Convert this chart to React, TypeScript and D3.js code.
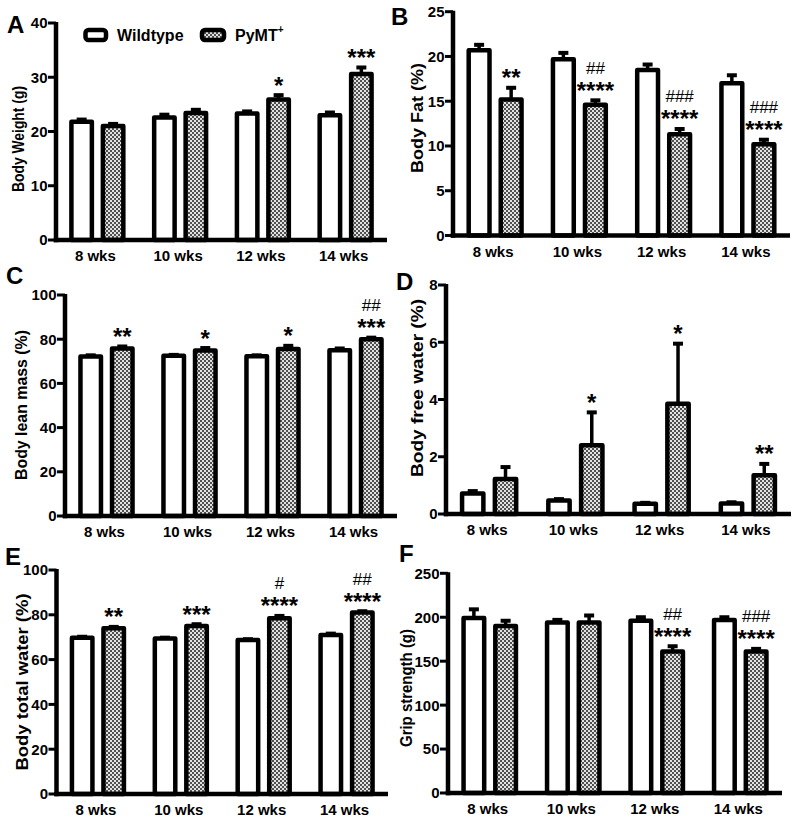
import React from 'react';
import * as d3 from 'd3';

const weeks = ['8 wks', '10 wks', '12 wks', '14 wks'];
const groups = ['WT', 'PyMT'];

// A: Body weight (g)
const weightWT = [21.8, 22.6, 23.3, 23.0];
const weightWTErr = [0.4, 0.5, 0.4, 0.5];
const weightPy = [21.0, 23.4, 25.9, 30.6];
const weightPyErr = [0.4, 0.6, 0.8, 1.2];
const weightStars = ['', '', '*', '***'];
const weightHash = ['', '', '', ''];

// B: Body fat (%)
const fatWT = [20.7, 19.7, 18.5, 17.0];
const fatWTErr = [0.6, 0.7, 0.6, 0.9];
const fatPy = [15.2, 14.6, 11.3, 10.2];
const fatPyErr = [1.3, 0.5, 0.6, 0.5];
const fatStars = ['**', '****', '****', '****'];
const fatHash = ['', '##', '###', '###'];

// C: Body lean mass (%)
const leanWT = [72.2, 72.5, 72.3, 75.0];
const leanWTErr = [0.5, 0.4, 0.4, 0.8];
const leanPy = [75.8, 74.9, 75.6, 80.0];
const leanPyErr = [0.9, 1.1, 1.4, 0.7];
const leanStars = ['**', '*', '*', '***'];
const leanHash = ['', '', '', '##'];

// D: Body free water (%)
const freeWT = [0.72, 0.47, 0.36, 0.37];
const freeWTErr = [0.08, 0.05, 0.03, 0.04];
const freePy = [1.22, 2.4, 3.85, 1.35];
const freePyErr = [0.42, 1.15, 2.1, 0.4];
const freeStars = ['', '*', '*', '**'];
const freeHash = ['', '', '', ''];

// E: Body total water (%)
const waterWT = [69.8, 69.4, 68.8, 71.0];
const waterWTErr = [0.4, 0.4, 0.3, 0.6];
const waterPy = [74.0, 75.0, 78.5, 81.0];
const waterPyErr = [0.6, 0.8, 1.0, 0.6];
const waterStars = ['**', '***', '****', '****'];
const waterHash = ['', '', '#', '##'];

// F: Grip strength (g)
const gripWT = [199, 194, 196, 197];
const gripWTErr = [10, 3, 4, 3];
const gripPy = [190, 194, 161, 161];
const gripPyErr = [6, 8, 6, 3];
const gripStars = ['', '', '****', '****'];
const gripHash = ['', '', '##', '###'];

type Panel = {
  letter: string; lx: number; ly: number;
  title: string; tx: number; ty: number; tlen: number;
  axisX: number; right: number; y0: number; yTop: number; max: number; nt: number;
  wt: number[]; wtErr: number[]; py: number[]; pyErr: number[]; stars: string[]; hash: string[];
};

const panels: Panel[] = [
  { letter: 'A', lx: 7, ly: 33, title: 'Body Weight (g)', tx: 24, ty: 139, tlen: 106,
    axisX: 56, right: 387, y0: 240, yTop: 23, max: 40, nt: 4,
    wt: weightWT, wtErr: weightWTErr, py: weightPy, pyErr: weightPyErr, stars: weightStars, hash: weightHash },
  { letter: 'B', lx: 391, ly: 25, title: 'Body Fat (%)', tx: 423, ty: 118, tlen: 110,
    axisX: 453, right: 790, y0: 235.5, yTop: 11.7, max: 25, nt: 5,
    wt: fatWT, wtErr: fatWTErr, py: fatPy, pyErr: fatPyErr, stars: fatStars, hash: fatHash },
  { letter: 'C', lx: 6, ly: 284, title: 'Body lean mass (%)', tx: 27, ty: 405, tlen: 150,
    axisX: 65, right: 397, y0: 516, yTop: 295, max: 100, nt: 5,
    wt: leanWT, wtErr: leanWTErr, py: leanPy, pyErr: leanPyErr, stars: leanStars, hash: leanHash },
  { letter: 'D', lx: 396, ly: 290, title: 'Body free water (%)', tx: 423, ty: 388, tlen: 178,
    axisX: 446, right: 791, y0: 514, yTop: 285, max: 8, nt: 4,
    wt: freeWT, wtErr: freeWTErr, py: freePy, pyErr: freePyErr, stars: freeStars, hash: freeHash },
  { letter: 'E', lx: 5, ly: 565, title: 'Body total water (%)', tx: 28, ty: 682, tlen: 177,
    axisX: 56.5, right: 388, y0: 794, yTop: 570, max: 100, nt: 5,
    wt: waterWT, wtErr: waterWTErr, py: waterPy, pyErr: waterPyErr, stars: waterStars, hash: waterHash },
  { letter: 'F', lx: 399, ly: 562, title: 'Grip strength (g)', tx: 412, ty: 688, tlen: 118,
    axisX: 448, right: 782, y0: 793, yTop: 573.3, max: 250, nt: 5,
    wt: gripWT, wtErr: gripWTErr, py: gripPy, pyErr: gripPyErr, stars: gripStars, hash: gripHash },
];

const FONT = 'Arial, "Liberation Sans", Helvetica, sans-serif';
const SW = 4.5;

function PanelView({ p }: { p: Panel }) {
  const x0 = d3.scaleBand<string>().domain(weeks).range([p.axisX, p.right]).paddingInner(0).paddingOuter(0);
  const x1 = d3.scaleBand<string>().domain(groups).range([0, x0.bandwidth()]).paddingInner(0.35).paddingOuter(0.49);
  const y = d3.scaleLinear().domain([0, p.max]).range([p.y0, p.yTop]);
  const ticks = y.ticks(p.nt);
  const bw = x1.bandwidth();
  const capHalf = 5;

  return (
    <g>
      <text x={p.lx} y={p.ly} fontFamily={FONT} fontWeight="bold" fontSize={24}>{p.letter}</text>
      <text
        transform={`translate(${p.tx},${p.ty}) rotate(-90)`}
        textAnchor="middle" fontFamily={FONT} fontWeight="bold" fontSize={17}
        textLength={p.tlen} lengthAdjust="spacingAndGlyphs"
      >{p.title}</text>
      {weeks.map((w, i) => {
        const gx = x0(w)!;
        const vals = [p.wt[i], p.py[i]];
        const errs = [p.wtErr[i], p.pyErr[i]];
        return (
          <g key={w}>
            {groups.map((g, j) => {
              const bx = gx + x1(g)!;
              const cx = bx + bw / 2;
              const top = y(vals[j]);
              const et = y(vals[j] + errs[j]);
              return (
                <g key={g}>
                  <line x1={cx} x2={cx} y1={top} y2={et} stroke="#000" strokeWidth={3.5} />
                  <line x1={cx - capHalf} x2={cx + capHalf} y1={et} y2={et} stroke="#000" strokeWidth={4} />
                  <rect x={bx} y={top} width={bw} height={p.y0 - top}
                    fill={j === 0 ? '#fff' : 'url(#checker)'} stroke="#000" strokeWidth={SW} strokeLinejoin="round" />
                </g>
              );
            })}
            {(() => {
              const cx = gx + x1('PyMT')! + bw / 2;
              const et = y(p.py[i] + p.pyErr[i]);
              const sb = et - 1.5;
              const hb = p.stars[i] ? sb - 25 : sb;
              return (
                <g>
                  {p.stars[i] && (
                    <text x={cx} y={sb} textAnchor="middle" fontFamily={FONT} fontWeight="bold" fontSize={24}>{p.stars[i]}</text>
                  )}
                  {p.hash[i] && (
                    <text x={cx} y={hb} textAnchor="middle" fontFamily={FONT} fontSize={17}>{p.hash[i]}</text>
                  )}
                </g>
              );
            })()}
            <text x={gx + x0.bandwidth() / 2 - 2} y={p.y0 + 21} textAnchor="middle"
              fontFamily={FONT} fontWeight="bold" fontSize={15}>{w}</text>
          </g>
        );
      })}
      <line x1={p.axisX} x2={p.axisX} y1={p.yTop - 1} y2={p.y0 + SW / 2} stroke="#000" strokeWidth={SW} />
      <line x1={p.axisX - SW / 2} x2={p.right} y1={p.y0} y2={p.y0} stroke="#000" strokeWidth={SW} />
      {ticks.map(t => (
        <g key={t}>
          <line x1={p.axisX - 8} x2={p.axisX} y1={y(t)} y2={y(t)} stroke="#000" strokeWidth={3} />
          <text x={p.axisX - 8.5} y={y(t)} dy="0.36em" textAnchor="end"
            fontFamily={FONT} fontWeight="bold" fontSize={15}>{t}</text>
        </g>
      ))}
    </g>
  );
}

export default function App() {
  return (
    <svg width={800} height={822} style={{ position: 'absolute', left: 0, top: 0, background: '#fff' }}>
      <defs>
        <pattern id="checker" patternUnits="userSpaceOnUse" width={4} height={4}>
          <rect width={4} height={4} fill="#e2e2e2" />
          <rect x={0} y={0} width={2} height={2} fill="#505050" />
          <rect x={2} y={2} width={2} height={2} fill="#505050" />
        </pattern>
      </defs>
      <rect width={800} height={822} fill="#fff" />
      {panels.map(p => <PanelView key={p.letter} p={p} />)}
      <g fontFamily={FONT} fontWeight="bold">
        <rect x={85.5} y={30} width={20.5} height={10} rx={3} fill="#fff" stroke="#000" strokeWidth={SW} />
        <text x={117} y={40.5} fontSize={16}>Wildtype</text>
        <rect x={202} y={30} width={22} height={10} rx={3} fill="url(#checker)" stroke="#000" strokeWidth={SW} />
        <text x={235} y={40.5} fontSize={16}>PyMT<tspan fontSize={10} dy={-8}>+</tspan></text>
      </g>
    </svg>
  );
}
